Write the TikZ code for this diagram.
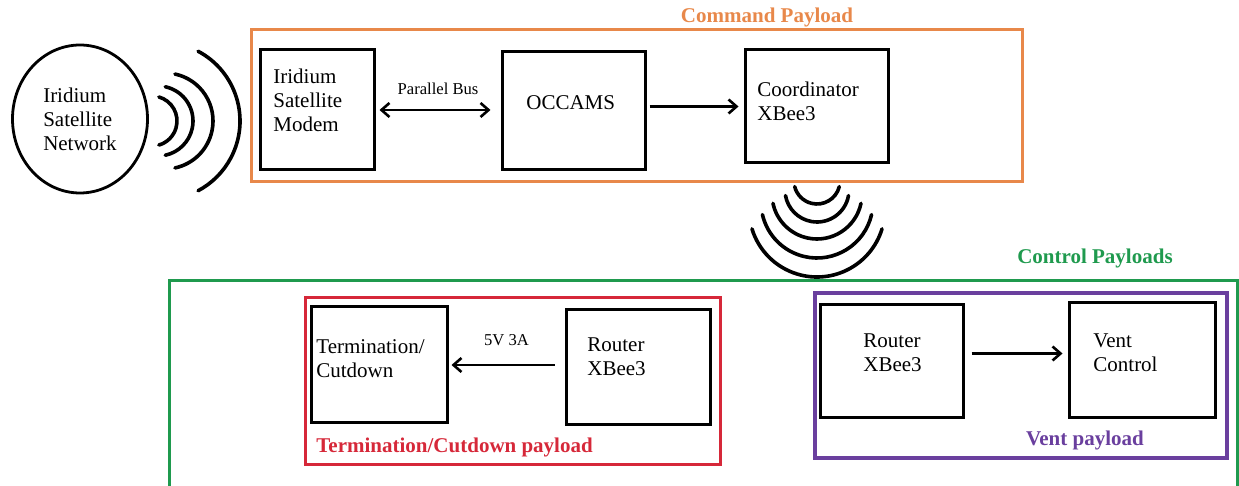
\documentclass[tikz,border=0pt]{standalone}
\usepackage{fontspec}
\setmainfont{Liberation Serif}
\usetikzlibrary{arrows.meta,shapes.geometric}

\definecolor{cmdorange}{HTML}{E8884A}
\definecolor{ctrlgreen}{HTML}{1F9A4E}
\definecolor{termred}{HTML}{D62839}
\definecolor{ventpurple}{HTML}{6A3F9E}

\begin{document}
\begin{tikzpicture}[x=0.5pt, y=-0.5pt, >={Straight Barb[length=4pt,width=7pt]}]
  % Styles: sizes are given in pixels of the layout grid (1px = 0.5pt)
  \tikzset{
    blk/.style 2 args = {draw, line width=1.5pt, minimum width=#1*0.5pt, minimum height=#2*0.5pt, inner sep=0pt},
    frame/.style 2 args = {draw, line width=1.5pt, minimum width=#1*0.5pt, minimum height=#2*0.5pt, inner sep=0pt},
    txt/.style  = {anchor=west, align=left, inner sep=0pt, font=\fontsize{10.5}{12}\selectfont},
    lbl/.style  = {inner sep=0pt, font=\bfseries\fontsize{10.5}{12}\selectfont},
    small/.style = {inner sep=0pt, font=\fontsize{8.3}{10}\selectfont},
    arr/.style  = {line width=1.3pt},
    wave/.style = {line width=1.8pt, line cap=round}
  }

  \useasboundingbox (0,0) rectangle (1239,486);

  % --- Satellite network and its radio waves ---
  \node[ellipse, draw, line width=1.4pt, minimum width=135*0.5pt, minimum height=148*0.5pt,
        align=left, inner sep=0pt, font=\fontsize{10.5}{12}\selectfont] (net) at (80,119)
        {Iridium\\Satellite\\Network};
  \foreach \cx/\r/\a in {152/25/74, 158/35/78, 165/48/78, 161/79/62}
    \draw[wave] (\cx,121) ++(-\a:\r) arc[start angle=-\a, end angle=\a, radius=\r];

  % --- Command payload ---
  \node[frame={771}{152}, draw=cmdorange] (cmd) at (636.5,106) {};
  \node[lbl, text=cmdorange] (cmdlbl) at (767,17) {Command Payload};

  \node[blk={114}{120}] (modem)  at (317,110)   {};
  \node[blk={143}{118}] (occams) at (573.5,111) {};
  \node[blk={143}{113}] (coord)  at (816.5,106.5) {};

  \node[txt] (modemtxt)  at (273,100) {Iridium\\Satellite\\Modem};
  \node[txt] (occamstxt) at (526,103) {OCCAMS};
  \node[txt] (coordtxt)  at (757,101) {Coordinator\\XBee3};

  \draw[arr, <->, shorten <=2pt, shorten >=5pt] (modem.east) -- (modem.east -| occams.west)
    node[small, midway, above=7pt] (buslbl) {Parallel Bus};
  \draw[arr, ->, shorten <=1.5pt, shorten >=2.5pt] (occams.east |- coord.west) -- (coord.west);

  % radio waves below the coordinator
  \foreach \cy/\r/\a in {181/23/76, 190/32/80, 194/45/78, 202/56/77, 209/68/73}
    \draw[wave] (817,\cy) ++(90-\a:\r) arc[start angle=90-\a, end angle=90+\a, radius=\r];

  % --- Control payloads ---
  \node[frame={1068}{209}, draw=ctrlgreen] (ctrl) at (703,385.5) {};
  \node[lbl, text=ctrlgreen] (ctrllbl) at (1095,258) {Control Payloads};

  % termination / cutdown payload
  \node[frame={415}{167}, draw=termred] (termpl) at (512.5,381.5) {};
  \node[lbl, text=termred, anchor=west] (termlbl) at (316,447) {Termination/Cutdown payload};
  \node[blk={136}{116}] (term) at (379,365)   {};
  \node[blk={144}{115}] (rone) at (638,367.5) {};
  \node[txt] (termtxt) at (316,359) {Termination/\\Cutdown};
  \node[txt] (ronetxt) at (587,357) {Router\\XBee3};
  \draw[arr, ->, shorten <=5pt, shorten >=1.5pt] (rone.west |- term.east) -- (term.east)
    node[small, midway, above=9pt] (pwrlbl) {5V 3A};

  % vent payload
  \node[frame={412}{165}, draw=ventpurple, line width=1.7pt] (ventpl) at (1021,375.5) {};
  \node[lbl, text=ventpurple] (ventlbl) at (1085,440) {Vent payload};
  \node[blk={143}{113}] (rtwo) at (891.5,361.5) {};
  \node[blk={146}{115}] (vent) at (1142,360.5)  {};
  \node[txt] (rtwotxt) at (863,353) {Router\\XBee3};
  \node[txt] (venttxt) at (1093,353) {Vent\\Control};
  \draw[arr, ->, shorten <=3.5pt, shorten >=2.5pt] ([yshift=4pt]rtwo.east) -- ([yshift=4pt]rtwo.east -| vent.west);
\end{tikzpicture}
\end{document}
